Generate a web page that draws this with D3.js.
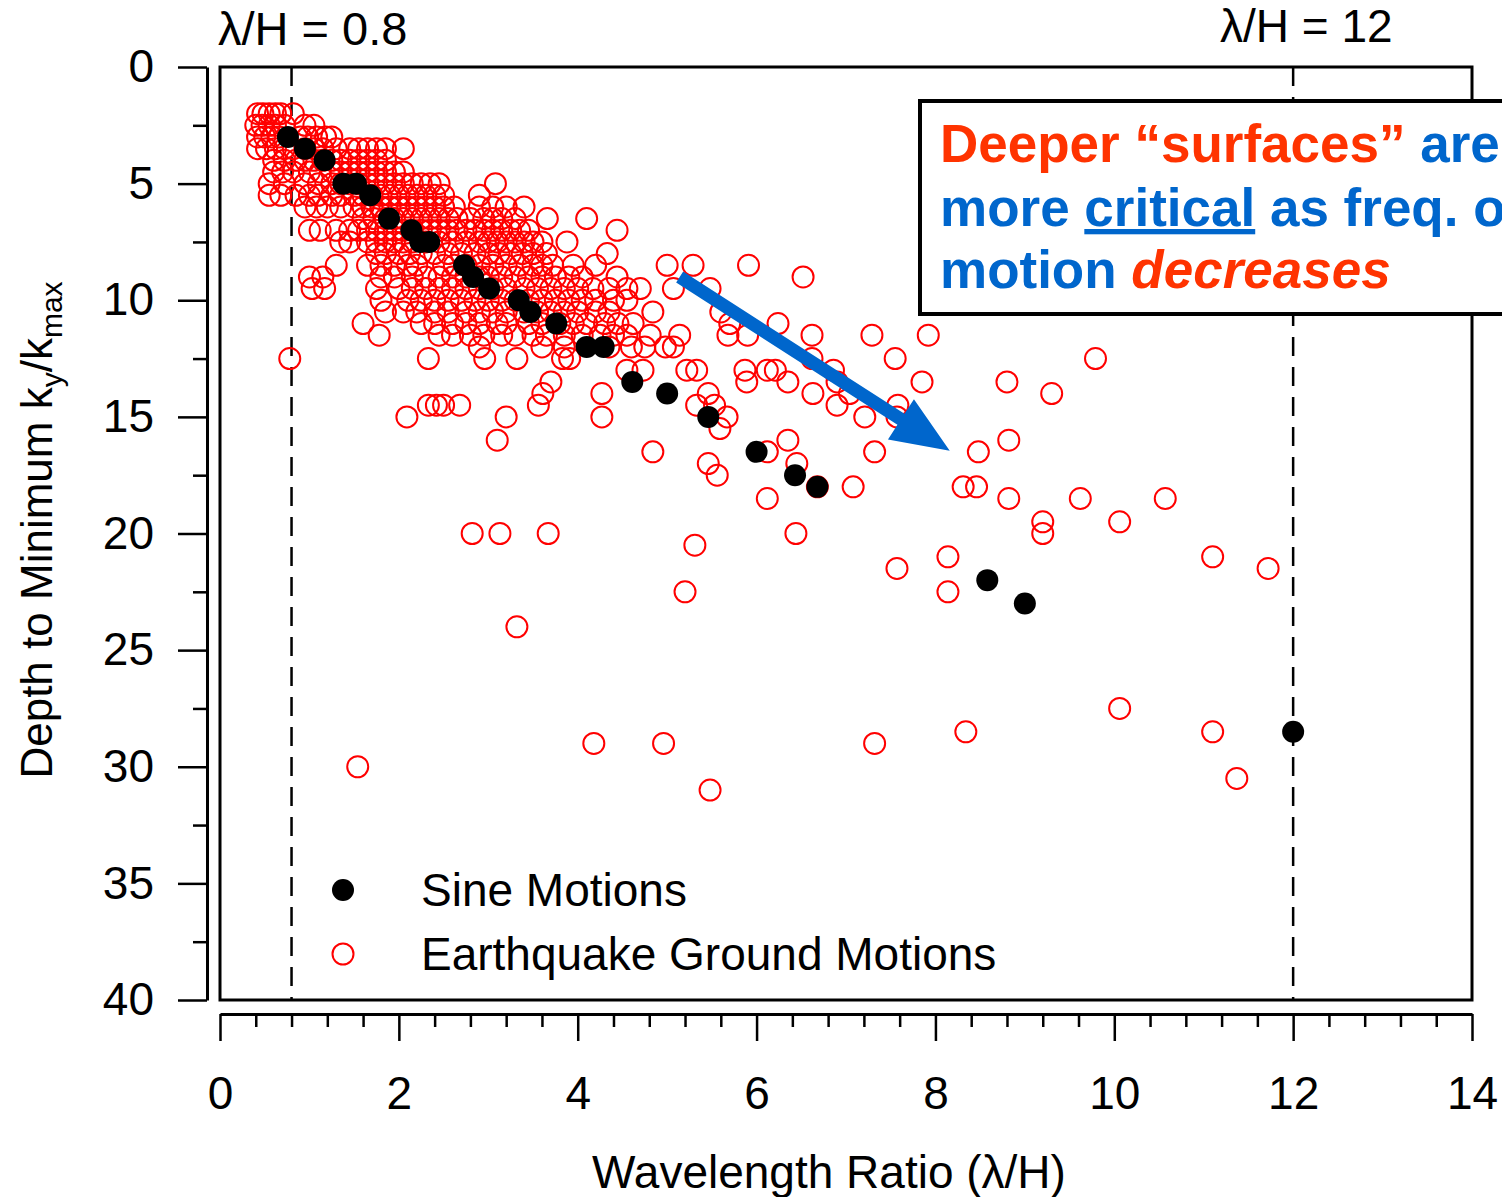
<!DOCTYPE html>
<html><head><meta charset="utf-8">
<script src="https://cdn.jsdelivr.net/npm/d3@7/dist/d3.min.js"></script>
<style>
body{margin:0;background:#fff}
svg{display:block}
text{font-family:"Liberation Sans",Arial,Helvetica,sans-serif}
</style>
</head><body>
<svg id="chart" width="1502" height="1197"></svg>
<script>
// ---- Sine motions (black filled) ----
const sineRatio = [0.76,0.95,1.17,1.38,1.52,1.68,1.89,2.14,2.24,2.34,2.73,2.83,3.01,3.34,3.47,3.76,4.10,4.29,4.61,5.0,5.46,6.0,6.43,6.68,8.58,9.0,12.0];
const sineDepth = [3.0,3.5,4.0,5.0,5.0,5.5,6.5,7.0,7.5,7.5,8.5,9.0,9.5,10.0,10.5,11.0,12.0,12.0,13.5,14.0,15.0,16.5,17.5,18.0,22.0,23.0,28.5];

// ---- Earthquake ground motions (red open), grouped by depth level ----
const eqDepthLevels = [2.0,2.5,3.0,3.5,4.0,4.5,5.0,5.5,6.0,6.5,7.0,7.5,8.0,8.5,9.0,9.5,10.0,10.5,11.0,11.5,12.0,12.5,13.0,13.5,14.0,14.5,15.0,15.5,16.0,16.5,17.0,17.5,18.0,18.5,19.5,20.0,20.5,21.0,21.5,22.5,24.0,27.5,28.5,29.0,30.0,30.5,31.0];
const eqRatiosByDepth = [
  [0.42,0.48,0.55,0.62,0.68,0.82],
  [0.40,0.47,0.55,0.62,0.72,0.95,1.05],
  [0.42,0.50,0.58,0.66,0.90,0.98,1.08,1.18,1.25],
  [0.42,0.52,0.62,0.72,0.82,0.95,1.05,1.15,1.30,1.45,1.55,1.65,1.75,1.85,2.05],
  [0.60,0.72,0.85,0.95,1.05,1.15,1.25,1.35,1.45,1.55,1.65,1.75,1.85],
  [0.60,0.70,0.82,1.00,1.12,1.25,1.35,1.45,1.55,1.65,1.75,1.85,1.95,2.05],
  [0.55,0.72,0.95,1.10,1.25,1.35,1.45,1.55,1.65,1.75,1.85,1.95,2.05,2.15,2.25,2.35,2.45,3.08],
  [0.55,0.68,0.85,1.00,1.10,1.25,1.35,1.50,1.60,1.70,1.80,1.90,2.00,2.10,2.20,2.30,2.40,2.50,2.90],
  [0.95,1.08,1.20,1.35,1.50,1.60,1.70,1.80,1.90,2.00,2.10,2.20,2.30,2.40,2.50,2.62,2.90,3.05,3.20,3.40],
  [1.60,1.72,1.85,1.95,2.05,2.15,2.25,2.35,2.45,2.55,2.65,2.80,2.95,3.05,3.15,3.30,3.66,4.10],
  [1.00,1.12,1.30,1.45,1.55,1.65,1.75,1.85,1.95,2.05,2.15,2.25,2.35,2.45,2.55,2.65,2.75,2.85,2.95,3.05,3.15,3.25,3.35,3.45,4.44],
  [1.35,1.45,1.65,1.75,1.85,1.95,2.05,2.15,2.30,2.45,2.60,2.75,2.90,3.00,3.10,3.20,3.30,3.40,3.50,3.60,3.88],
  [1.75,1.85,2.00,2.12,2.25,2.40,2.55,2.70,2.85,3.00,3.12,3.25,3.38,3.50,3.65,4.33],
  [1.30,1.65,1.80,1.95,2.10,2.20,2.50,2.62,2.75,2.90,3.05,3.20,3.35,3.50,3.60,3.72,3.95,4.20,5.00,5.29,5.91],
  [1.00,1.15,1.80,1.95,2.15,2.30,2.45,2.60,2.75,2.90,3.00,3.15,3.30,3.45,3.60,3.75,3.90,4.05,4.44,6.52],
  [1.03,1.17,1.75,2.00,2.15,2.30,2.45,2.60,2.75,2.90,3.05,3.20,3.40,3.55,3.70,3.85,4.00,4.17,4.35,4.55,4.70,5.07,5.48],
  [1.80,2.10,2.25,2.40,2.55,2.70,2.85,3.00,3.15,3.30,3.45,3.60,3.75,3.90,4.05,4.20,4.40,4.55],
  [1.85,2.05,2.20,2.40,2.55,2.75,2.90,3.05,3.20,3.40,3.55,3.70,3.85,4.00,4.20,4.35,4.84,5.60],
  [1.60,2.25,2.40,2.60,2.75,2.90,3.10,3.20,3.45,3.60,3.80,3.95,4.10,4.30,4.45,4.62,5.70,6.24],
  [1.78,2.45,2.60,2.80,2.95,3.15,3.30,3.50,3.65,3.85,4.05,4.25,4.40,4.55,4.81,5.14,5.68,5.90,6.62,7.29,7.92],
  [2.90,3.60,3.85,4.35,4.60,4.75,4.98,5.07],
  [0.78,2.33,2.96,3.32,3.83,3.91,6.62,7.55,9.79],
  [4.55,4.73,5.22,5.33,5.87,6.12,6.21,6.86],
  [3.70,5.89,6.35,6.90,7.85,8.80],
  [3.61,4.27,5.46,6.63,7.04,9.30],
  [2.33,2.42,2.50,2.68,3.56,5.33,5.53,6.90,7.58],
  [2.09,3.20,4.27,5.67,7.21,7.57],
  [5.59],
  [3.10,6.35,8.82],
  [4.84,6.12,7.32,8.48],
  [5.46,6.45],
  [5.56],
  [6.68,7.08,8.31,8.46],
  [6.12,8.82,9.62,10.57],
  [9.20,10.06],
  [2.82,3.13,3.67,6.44,9.20],
  [5.31],
  [8.14,11.10],
  [7.57,11.72],
  [5.20,8.14],
  [3.32],
  [10.06],
  [8.34,11.10],
  [4.18,4.96,7.32],
  [1.54],
  [11.37],
  [5.48]
];

// ---- Axis ticks and labels ----
const xMajorTicks = [0,2,4,6,8,10,12,14];
const yMajorTicks = [0,5,10,15,20,25,30,35,40];
const refLines = [0.8, 12];
const refLabels = ["λ/H = 0.8", "λ/H = 12"];
const legendLabels = ["Sine Motions", "Earthquake Ground Motions"];
const xTitle = "Wavelength Ratio (λ/H)";
// annotation arrow (data coords: start ratio/depth, end ratio/depth)
const arrowFrom = [5.14, 9.0];
const arrowTo = [8.16, 16.45];

const svg = d3.select("#chart");
svg.append("rect").attr("width",1502).attr("height",1197).attr("fill","#fff");

const x = d3.scaleLinear().domain([0,14]).range([220,1472]);
const y = d3.scaleLinear().domain([0,40]).range([67,1000]);
const FONT = 46;

// --- Y axis (separate, left of frame) ---
const yMinor = d3.range(0,40.01,2.5).filter(v => v % 5 !== 0);
const yAxisG = svg.append("g").attr("transform","translate(207,0)");
yAxisG.call(d3.axisLeft(y).tickValues(yMajorTicks).tickSize(29).tickSizeOuter(0).tickPadding(24).tickFormat(d3.format("d")));
yAxisG.selectAll(".tick text").attr("font-size",FONT).attr("font-family","Liberation Sans, Arial, sans-serif").attr("fill","#000");
const yMinorG = svg.append("g").attr("transform","translate(207,0)")
  .call(d3.axisLeft(y).tickValues(yMinor).tickSize(14).tickFormat(""));
yMinorG.select(".domain").remove();

// --- X axis (separate, below frame) ---
const xMinor = d3.range(0,14.001,0.4).filter(v => Math.abs(v/2 - Math.round(v/2)) > 1e-6);
const xAxisG = svg.append("g").attr("transform","translate(0,1014)");
xAxisG.call(d3.axisBottom(x).tickValues(xMajorTicks).tickSize(27).tickSizeOuter(0).tickPadding(35).tickFormat(d3.format("d")));
xAxisG.selectAll(".tick text").attr("font-size",FONT).attr("font-family","Liberation Sans, Arial, sans-serif").attr("fill","#000");
const xMinorG = svg.append("g").attr("transform","translate(0,1014)")
  .call(d3.axisBottom(x).tickValues(xMinor).tickSize(13).tickFormat(""));
xMinorG.select(".domain").remove();
svg.selectAll(".domain").attr("stroke-width",3).attr("stroke","#000");
svg.selectAll(".tick line").attr("stroke-width",2.5).attr("stroke","#000");

// --- reference dashed lines ---
svg.selectAll("line.ref").data(refLines).enter().append("line")
  .attr("class","ref")
  .attr("x1",d=>x(d)).attr("x2",d=>x(d))
  .attr("y1",y(0)).attr("y2",y(40))
  .attr("stroke","#000").attr("stroke-width",2.5).attr("stroke-dasharray","19,11");

// --- earthquake points ---
const eqPoints = [];
eqDepthLevels.forEach((d,i) => eqRatiosByDepth[i].forEach(r => eqPoints.push({r, d})));
svg.append("g").selectAll("circle").data(eqPoints).enter().append("circle")
  .attr("cx",p=>x(p.r)).attr("cy",p=>y(p.d)).attr("r",10.5)
  .attr("fill","none").attr("stroke","#ff0000").attr("stroke-width",2);

// --- sine points ---
svg.append("g").selectAll("circle").data(sineRatio.map((r,i)=>({r, d:sineDepth[i]}))).enter().append("circle")
  .attr("cx",p=>x(p.r)).attr("cy",p=>y(p.d)).attr("r",11).attr("fill","#000");

// --- plot frame ---
svg.append("rect").attr("x",220).attr("y",67).attr("width",1252).attr("height",933)
  .attr("fill","none").attr("stroke","#000").attr("stroke-width",3);

// --- top labels ---
svg.append("text").attr("x",218).attr("y",45).attr("font-size",47).text(refLabels[0]);
svg.append("text").attr("x",1220).attr("y",42).attr("font-size",46).text(refLabels[1]);

// --- axis titles ---
svg.append("text").attr("x",829).attr("y",1188).attr("text-anchor","middle").attr("font-size",FONT).text(xTitle);
const yt = svg.append("text").attr("transform","translate(52,530) rotate(-90)").attr("text-anchor","middle").attr("font-size",44);
yt.append("tspan").text("Depth to Minimum k");
yt.append("tspan").attr("font-size",30).attr("dy",10).text("y");
yt.append("tspan").attr("dy",-10).text("/k");
yt.append("tspan").attr("font-size",30).attr("dy",10).text("max");

// --- legend ---
svg.append("circle").attr("cx",343).attr("cy",890).attr("r",11).attr("fill","#000");
svg.append("circle").attr("cx",343).attr("cy",954).attr("r",10.5).attr("fill","none").attr("stroke","#ff0000").attr("stroke-width",2);
svg.append("text").attr("x",421).attr("y",906).attr("font-size",FONT).text(legendLabels[0]);
svg.append("text").attr("x",421).attr("y",970).attr("font-size",FONT).text(legendLabels[1]);

// --- blue arrow ---
const ax1 = x(arrowFrom[0]), ay1 = y(arrowFrom[1]), ax2 = x(arrowTo[0]), ay2 = y(arrowTo[1]);
const ang = Math.atan2(ay2-ay1, ax2-ax1);
const headLen = 58, headHalf = 24, shaftHalf = 6.5;
const ux = Math.cos(ang), uy = Math.sin(ang), nx = -uy, ny = ux;
const bx = ax2 - ux*headLen, by = ay2 - uy*headLen;
const pts = [
  [ax1 + nx*shaftHalf, ay1 + ny*shaftHalf],
  [bx + nx*shaftHalf, by + ny*shaftHalf],
  [bx + nx*headHalf, by + ny*headHalf],
  [ax2, ay2],
  [bx - nx*headHalf, by - ny*headHalf],
  [bx - nx*shaftHalf, by - ny*shaftHalf],
  [ax1 - nx*shaftHalf, ay1 - ny*shaftHalf]
];
svg.append("polygon").attr("points",pts.map(p=>p.join(",")).join(" ")).attr("fill","#0066cc");

// --- annotation box ---
svg.append("rect").attr("x",920).attr("y",101).attr("width",640).attr("height",213)
  .attr("fill","#fff").attr("stroke","#000").attr("stroke-width",4);
const RED = "#ff3300", BLUE = "#0066cc";
const ann = svg.append("g").attr("font-weight","bold").attr("font-size",53);
const l1 = ann.append("text").attr("x",940).attr("y",162);
l1.append("tspan").attr("fill",RED).text("Deeper \u201csurfaces\u201d ");
l1.append("tspan").attr("fill",BLUE).text("are");
const l2 = ann.append("text").attr("x",940).attr("y",226).attr("fill",BLUE);
l2.append("tspan").text("more ");
l2.append("tspan").attr("text-decoration","underline").text("critical");
l2.append("tspan").text(" as freq. of");
const l3 = ann.append("text").attr("x",940).attr("y",288);
l3.append("tspan").attr("fill",BLUE).text("motion ");
l3.append("tspan").attr("fill",RED).attr("font-style","italic").text("decreases");
</script>
</body></html>
